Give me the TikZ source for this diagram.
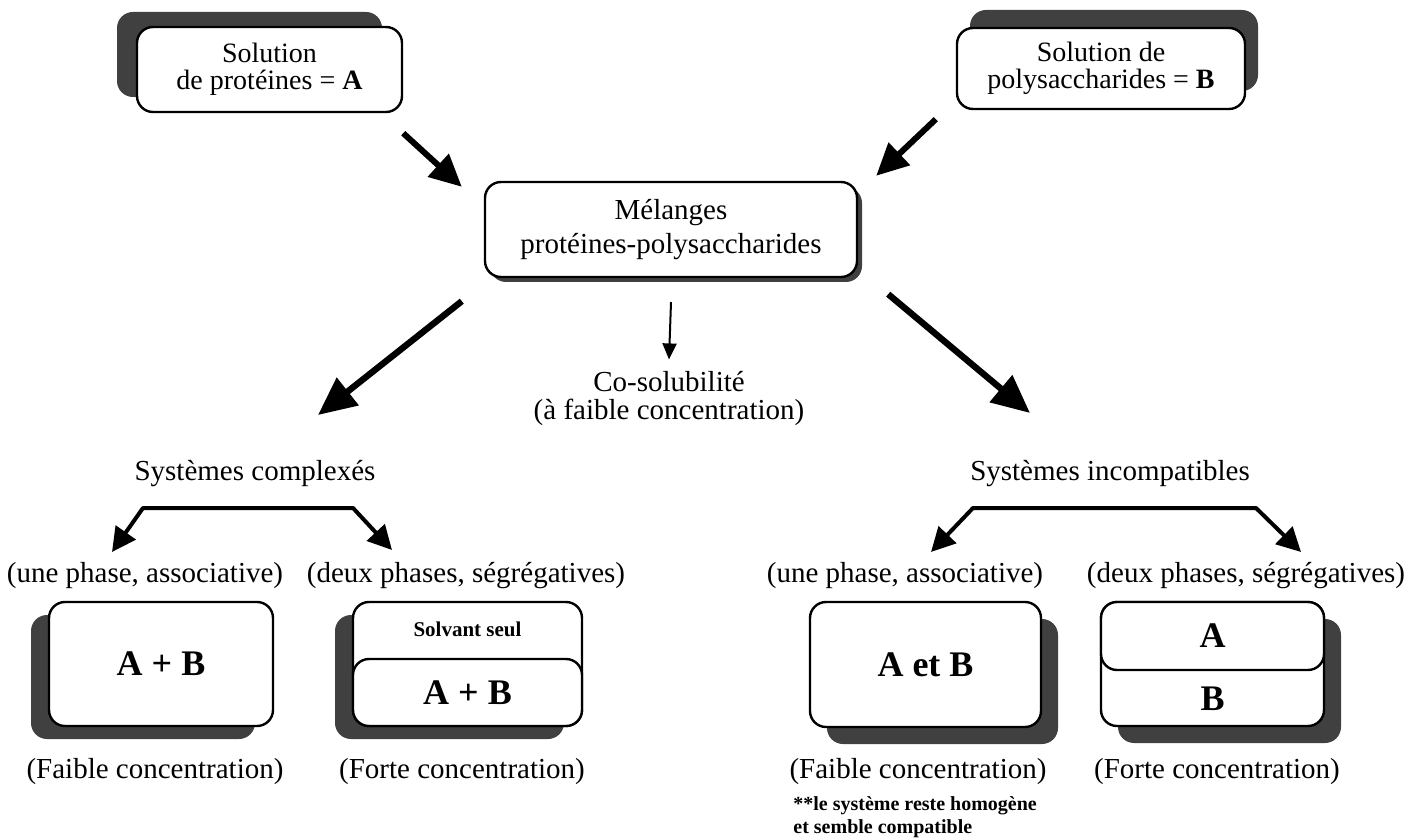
\documentclass[tikz,border=0pt]{standalone}
\usepackage{fontspec}
\setmainfont{Liberation Serif}
\usetikzlibrary{arrows.meta,shadows}

\tikzset{
  box/.style={draw, line width=1.2pt, rounded corners=8pt, fill=white, align=center, inner sep=0pt},
  ul shadow/.style={drop shadow={shadow xshift=-10pt, shadow yshift=7.5pt, opacity=1, fill=black!75}},
  ur shadow/.style={drop shadow={shadow xshift=6.5pt, shadow yshift=9pt, opacity=1, fill=black!75}},
  thin shadow/.style={drop shadow={shadow xshift=2.5pt, shadow yshift=-2.5pt, opacity=1, fill=black!75}},
  ll shadow/.style={drop shadow={shadow xshift=-9pt, shadow yshift=-6.5pt, opacity=1, fill=black!75}},
  lr shadow/.style={drop shadow={shadow xshift=8.5pt, shadow yshift=-8.5pt, opacity=1, fill=black!75}},
  txt/.style={align=center, inner sep=0pt, font=\fontsize{14.5}{14}\selectfont},
  big/.style={font=\bfseries\fontsize{18}{18}\selectfont},
  fat/.style={line width=3pt, -{Triangle[length=16pt,width=15pt]}},
  fatter/.style={line width=3.2pt, -{Triangle[length=19pt,width=17pt]}},
  slim/.style={line width=1pt, -{Triangle[length=8pt,width=7pt]}},
  branch/.style={line width=2pt, line join=round,
    {Triangle[length=12pt,width=12pt]}-{Triangle[length=12pt,width=12pt]}}
}

\begin{document}
\begin{tikzpicture}[x=0.5pt, y=-0.5pt]
  \useasboundingbox (0,0) rectangle (1408,839);

  % starting solutions
  \node[box, ul shadow, minimum width=132.5pt, minimum height=42.5pt,
        font=\fontsize{14}{13.5}\selectfont] (solA) at (269.5,69.5)
        {Solution\\de protéines = \textbf{A}};
  \node[box, ur shadow, minimum width=144pt, minimum height=40.5pt,
        font=\fontsize{14}{13.5}\selectfont] (solB) at (1101,68.5)
        {Solution de\\polysaccharides = \textbf{B}};

  % mixture
  \node[box, thin shadow, minimum width=186pt, minimum height=47.5pt,
        font=\fontsize{14.5}{17}\selectfont] (melange) at (671,229.5)
        {Mélanges\\protéines-polysaccharides};

  \draw[fat] ([yshift=-10pt]solA.south east) -- ([xshift=-11pt,yshift=-3pt]melange.north west);
  \draw[fat] ([xshift=-10pt,yshift=-4.5pt]solB.south west) -- ([xshift=9pt,yshift=2.5pt]melange.north east);

  \node[txt] (cosol) at (669,399) {Co-solubilité\\(à faible concentration)};
  \draw[slim] ([yshift=-12pt]melange.south) -- ([yshift=6pt]cosol.north);

  \node[txt] (complexe) at (255,474) {Systèmes complexés};
  \node[txt] (incompat) at (1110,474) {Systèmes incompatibles};

  \coordinate (tipL) at (318,415);
  \coordinate (tipR) at (1030,413);
  \draw[fatter] ([xshift=-11pt,yshift=-11.5pt]melange.south west) -- (tipL);
  \draw[fatter] ([xshift=15pt,yshift=-8pt]melange.south east) -- (tipR);

  % branches
  \coordinate (bl1) at (112,552);
  \coordinate (cl1) at (143,508);
  \coordinate (cr1) at (353,508);
  \coordinate (br1) at (392,550);
  \draw[branch] (bl1) -- (cl1) -- (cr1) -- (br1);

  \coordinate (bl2) at (931,552);
  \coordinate (cl2) at (973,508);
  \coordinate (cr2) at (1256,508);
  \coordinate (br2) at (1301,552);
  \draw[branch] (bl2) -- (cl2) -- (cr2) -- (br2);

  \node[txt] (une1) at (145,576) {(une phase, associative)};
  \node[txt] (deux1) at (466,576) {(deux phases, ségrégatives)};
  \node[txt] (une2) at (905,576) {(une phase, associative)};
  \node[txt] (deux2) at (1246,576) {(deux phases, ségrégatives)};

  % complexed systems
  \node[box, ll shadow, big, minimum width=112pt, minimum height=62pt] (mixAB) at (161,664) {A + B};
  \node[box, ll shadow, minimum width=114.5pt, minimum height=62pt] (solv) at (467.5,664) {};
  \node[box, big, anchor=south, minimum width=114.5pt, minimum height=33.5pt] (phaseAB) at (solv.south) {A + B};
  \node[inner sep=0pt, font=\bfseries\fontsize{10.5}{10.5}\selectfont] (solvtxt) at ([yshift=-14.5pt]solv.north) {Solvant seul};

  % incompatible systems
  \node[box, lr shadow, big, minimum width=115.5pt, minimum height=62.5pt] (homAB) at (925.5,664.5) {A et B};
  \node[box, lr shadow, minimum width=111.5pt, minimum height=62pt] (sep) at (1212.5,664) {};
  \node[box, big, anchor=north, minimum width=111.5pt, minimum height=34pt] (phaseA) at (sep.north) {A};
  \node[inner sep=0pt, big] (phaseB) at ([yshift=14pt]sep.south) {B};

  \node[txt] (faible1) at (155,772) {(Faible concentration)};
  \node[txt] (forte1) at (462,772) {(Forte concentration)};
  \node[txt] (faible2) at (918,772) {(Faible concentration)};
  \node[txt] (forte2) at (1217,772) {(Forte concentration)};

  \node[anchor=west, align=left, inner sep=0pt,
        font=\bfseries\fontsize{10}{11.5}\selectfont] (note) at (793,817)
        {**le système reste homogène\\et semble compatible};
\end{tikzpicture}
\end{document}
